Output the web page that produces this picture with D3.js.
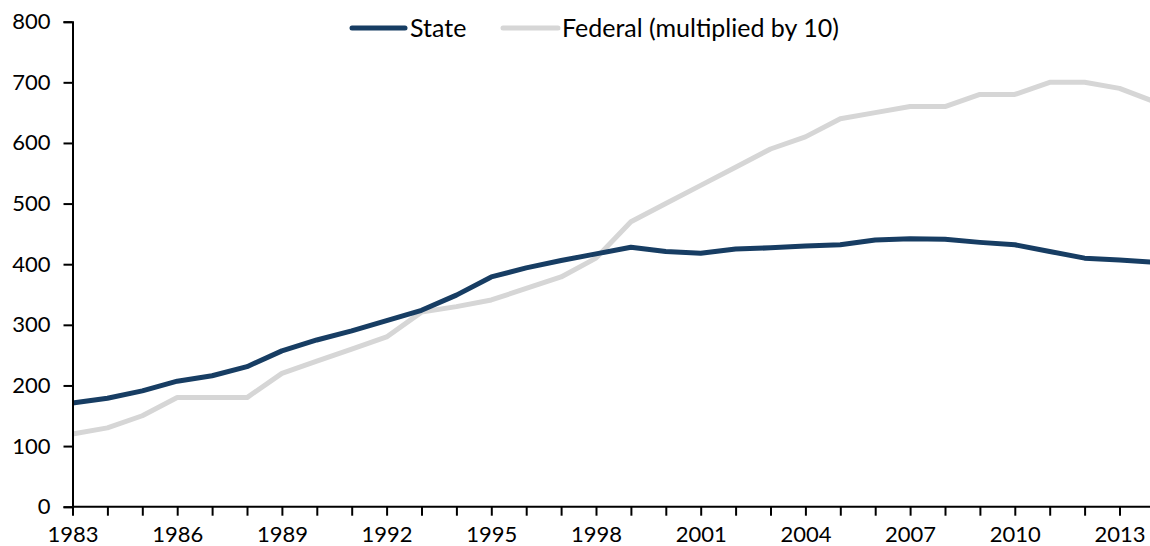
<!DOCTYPE html>
<html>
<head>
<meta charset="utf-8">
<script src="https://cdn.jsdelivr.net/npm/d3@7"></script>
<style>
  body { margin: 0; background: #fff; }
  svg { display: block; font-family: Lato, "Noto Sans", sans-serif; }
</style>
</head>
<body>
<svg id="chart" width="1150" height="546"></svg>
<script>
const years = d3.range(1983, 2015);

const stateValues = [171, 179, 191, 207, 216, 231, 257, 275, 290, 307, 324, 349, 379, 394, 406, 417,
  428, 421, 418, 425, 427, 430, 432, 440, 442, 441, 436, 432, 421, 410, 407, 403];

// federal, already multiplied by 10
const federalValues = [120, 130, 150, 180, 180, 180, 220, 240, 260, 280, 321, 330, 341, 360, 379, 410,
  470, 500, 530, 560, 590, 610, 640, 650, 660, 660, 680, 680, 700, 700, 690, 668];

const yTicks = [0, 100, 200, 300, 400, 500, 600, 700, 800];
const xLabelYears = [1983, 1986, 1989, 1992, 1995, 1998, 2001, 2004, 2007, 2010, 2013];

const series = [
  { name: "State", values: stateValues, color: "#173d63" },
  { name: "Federal (multiplied by 10)", values: federalValues, color: "#d6d6d6" }
];

const svg = d3.select("#chart");
const marginLeft = 72.5, plotBottom = 506.7, plotTop = 21.7;

const x = d3.scaleLinear().domain([1983, 2014]).range([marginLeft, marginLeft + 31 * 34.9]);
const y = d3.scaleLinear().domain([0, 800]).range([plotBottom, plotTop]);

const line = d3.line()
  .x((d, i) => x(years[i]))
  .y(d => y(d));

// lines first (federal under state)
svg.append("g")
  .selectAll("path")
  .data(series.slice().reverse())
  .join("path")
  .attr("fill", "none")
  .attr("stroke", d => d.color)
  .attr("stroke-width", 5)
  .attr("stroke-linejoin", "round")
  .attr("d", d => line(d.values));

// x axis
const xAxis = svg.append("g")
  .attr("transform", `translate(0,${plotBottom})`)
  .call(d3.axisBottom(x)
    .tickValues(years.slice(0, 31))
    .tickSize(9)
    .tickPadding(6)
    .tickFormat(d => xLabelYears.includes(d) ? d : ""));
xAxis.select(".domain").attr("d", `M${marginLeft},0H1150`);

// y axis
const yAxis = svg.append("g")
  .attr("transform", `translate(${marginLeft},0)`)
  .call(d3.axisLeft(y).tickValues(yTicks).tickSize(9).tickPadding(13).tickFormat(d3.format("d")));

svg.selectAll(".domain, .tick line").attr("stroke", "#000").attr("stroke-width", 2);
svg.selectAll("g").attr("font-family", null);
svg.selectAll(".tick text").attr("fill", "#000").style("font-size", "22px");
xAxis.selectAll(".tick text").attr("dy", "0.93em");

// legend
const legendItems = [
  { x1: 352, x2: 405, tx: 410 },
  { x1: 503, x2: 558, tx: 562 }
];
const legend = svg.append("g");
legendItems.forEach((p, i) => {
  legend.append("line")
    .attr("x1", p.x1).attr("x2", p.x2)
    .attr("y1", 28).attr("y2", 28)
    .attr("stroke", series[i].color)
    .attr("stroke-width", 5)
    .attr("stroke-linecap", "round");
  legend.append("text")
    .attr("x", p.tx).attr("y", 37)
    .style("font-size", "25px")
    .attr("fill", "#000")
    .text(series[i].name);
});
</script>
</body>
</html>
